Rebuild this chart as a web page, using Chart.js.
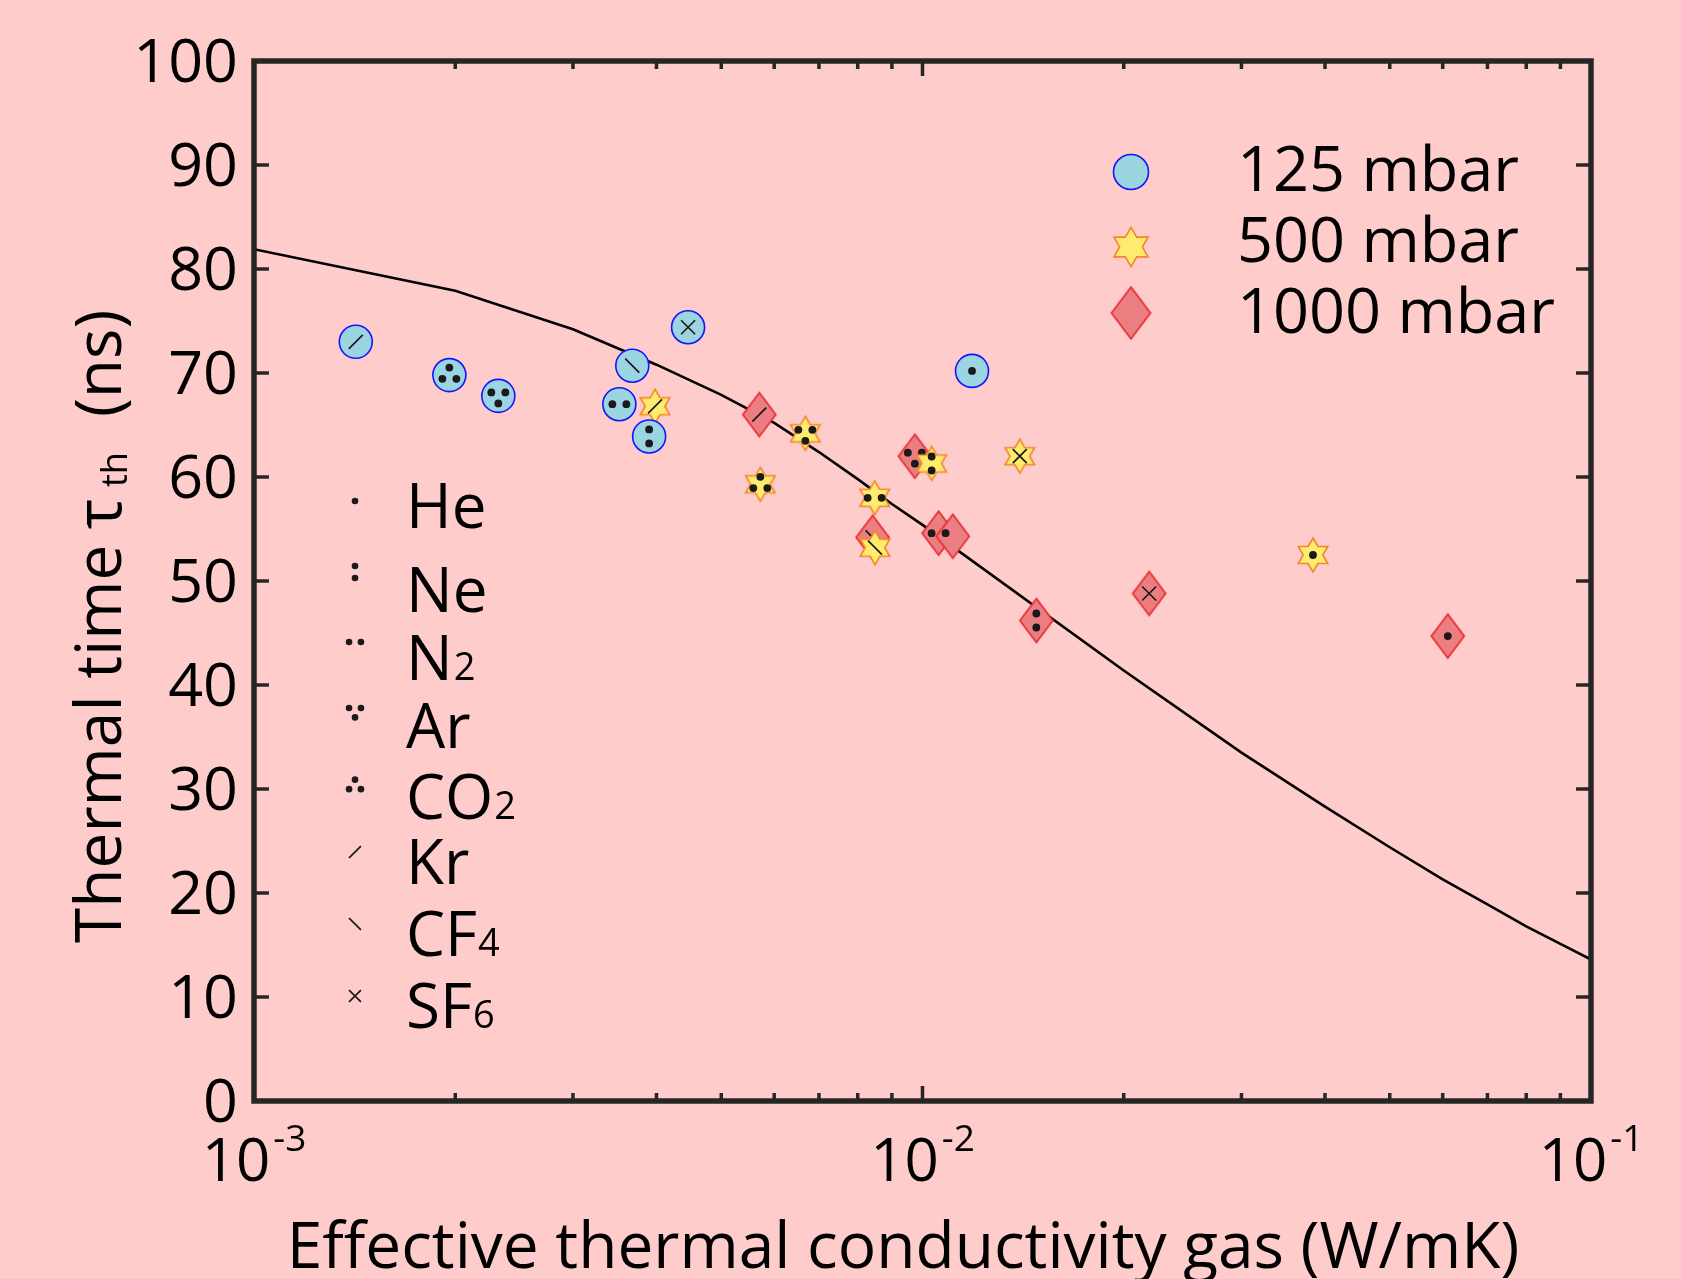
<!DOCTYPE html>
<html>
<head>
<meta charset="utf-8">
<script src="https://cdn.jsdelivr.net/npm/chart.js@4.4.1/dist/chart.umd.min.js"></script>
<style>
    html, body { margin: 0; padding: 0; background: #ffcccc; }
    #wrap { width: 1681px; height: 1279px; position: relative; }
</style>
</head>
<body>
<div id="wrap"><canvas id="myChart"></canvas></div>
<script>
const ctx = document.getElementById("myChart");

// model curve
const curveK = [0.001, 0.002, 0.003, 0.004, 0.005, 0.006, 0.007, 0.008, 0.009, 0.01, 0.02, 0.03, 0.04, 0.05, 0.06, 0.07, 0.08, 0.09, 0.1];
const curveTau = [81.9, 77.9, 74.2, 70.8, 67.9, 65.2, 62.4, 59.8, 57.4, 55.4, 41.4, 33.5, 28.3, 24.4, 21.3, 18.9, 16.8, 15.1, 13.6];

// measurements per pressure
const k125 = [0.00142, 0.00196, 0.00232, 0.00352, 0.00368, 0.00390, 0.00446, 0.01186];
const tau125 = [73.0, 69.8, 67.8, 67.0, 70.7, 63.9, 74.4, 70.2];
const gas125 = ["Kr", "CO2", "Ar", "N2", "CF4", "Ne", "SF6", "He"];

const k500 = [0.00398, 0.00572, 0.00668, 0.00848, 0.00849, 0.01032, 0.01398, 0.03838];
const tau500 = [66.8, 59.3, 64.2, 58.0, 53.2, 61.3, 62.0, 52.5];
const gas500 = ["Kr", "CO2", "Ar", "N2", "CF4", "Ne", "SF6", "He"];

const k1000 = [0.00570, 0.00842, 0.00974, 0.01057, 0.01110, 0.01480, 0.02183, 0.06106];
const tau1000 = [66.0, 54.2, 62.0, 54.6, 54.3, 46.2, 48.8, 44.7];
const gas1000 = ["Kr", "CF4", "Ar", "N2", "", "Ne", "SF6", "He"]; // 5th glyph not visible

const gasNames = ["He", "Ne", "N2", "Ar", "CO2", "Kr", "CF4", "SF6"];
const pressureLabels = ["125 mbar", "500 mbar", "1000 mbar"];
const xTickExps = [-3, -2, -1];

const FONT = "'Open Sans', 'Noto Sans', sans-serif";
const INK = "#262626";

function toPoints(xs, ys) {
    return xs.map((x, i) => ({ x: x, y: ys[i] }));
}

// 6-pointed star marker
function makeStar(R) {
    const c = document.createElement("canvas");
    const size = Math.ceil(2 * R + 4);
    c.width = size;
    c.height = size;
    const g = c.getContext("2d");
    const cx = size / 2, cy = size / 2, r = R / Math.sqrt(3);
    g.beginPath();
    for (let i = 0; i < 12; i++) {
        const a = -Math.PI / 2 + i * Math.PI / 6;
        const rad = i % 2 === 0 ? R : r;
        g.lineTo(cx + rad * Math.cos(a), cy + rad * Math.sin(a));
    }
    g.closePath();
    g.fillStyle = "#ffeb6e";
    g.fill();
    g.lineWidth = 1.6;
    g.strokeStyle = "#f3862c";
    g.stroke();
    return c;
}

function makeDiamond(hw, hh) {
    const c = document.createElement("canvas");
    c.width = Math.ceil(2 * hw + 4);
    c.height = Math.ceil(2 * hh + 4);
    const g = c.getContext("2d");
    const cx = c.width / 2, cy = c.height / 2;
    g.beginPath();
    g.moveTo(cx, cy - hh);
    g.lineTo(cx + hw, cy);
    g.lineTo(cx, cy + hh);
    g.lineTo(cx - hw, cy);
    g.closePath();
    g.fillStyle = "#ea7e81";
    g.fill();
    g.lineWidth = 1.6;
    g.strokeStyle = "#e8262c";
    g.stroke();
    return c;
}

const starImg = makeStar(17);
const diamondImg = makeDiamond(16.5, 22);
const starBig = makeStar(19.7);
const diamondBig = makeDiamond(19.5, 26);

// gas glyph drawn on top of a marker
function drawGlyph(g, gas, x, y, s) {
    const dots = {
        He: [[0, 0]],
        Ne: [[0, -7], [0, 7]],
        N2: [[-7, 0], [7, 0]],
        Ar: [[-7, -3.5], [7, -3.5], [0, 7.5]],
        CO2: [[0, -7.5], [-7, 3.75], [7, 3.75]]
    };
    g.save();
    g.fillStyle = "#1a1a1a";
    g.strokeStyle = "#1a1a1a";
    g.lineWidth = 1.7;
    if (dots[gas]) {
        dots[gas].forEach(d => {
            g.beginPath();
            g.arc(x + d[0] * s, y + d[1] * s, 3.9 * s, 0, Math.PI * 2);
            g.fill();
        });
    } else {
        const d = 7 * s;
        g.beginPath();
        if (gas === "Kr" || gas === "SF6") {
            g.moveTo(x - d, y + d);
            g.lineTo(x + d, y - d);
        }
        if (gas === "CF4" || gas === "SF6") {
            g.moveTo(x - d, y - d);
            g.lineTo(x + d, y + d);
        }
        g.stroke();
    }
    g.restore();
}

const glyphPlugin = {
    id: "glyphs",
    afterDatasetDraw(chart, args) {
        const ds = chart.data.datasets[args.index];
        if (!ds.gases) return;
        args.meta.data.forEach((pt, i) => drawGlyph(chart.ctx, ds.gases[i], pt.x, pt.y, 1));
    }
};

// text with a smaller trailing digit, e.g. CO2
function drawChem(g, name, x, y, size) {
    const m = name.match(/^([A-Za-z]+)(\d?)$/);
    g.font = `${size}px ${FONT}`;
    g.fillText(m[1], x, y);
    if (m[2]) {
        const w = g.measureText(m[1]).width;
        g.font = `${Math.round(size * 0.62)}px ${FONT}`;
        g.fillText(m[2], x + w + 1, y);
    }
}

const framePlugin = {
    id: "frame",
    afterDraw(chart) {
        const g = chart.ctx;
        const a = chart.chartArea;
        const xs = chart.scales.x, ys = chart.scales.y;
        g.save();
        g.strokeStyle = INK;

        // ticks (inside, all four sides)
        g.lineWidth = 3.5;
        g.beginPath();
        for (let v = 10; v < 100; v += 10) {
            const py = ys.getPixelForValue(v);
            g.moveTo(a.left, py); g.lineTo(a.left + 15, py);
            g.moveTo(a.right, py); g.lineTo(a.right - 15, py);
        }
        for (let e = -3; e <= -2; e++) {
            for (let m = 1; m <= 9; m++) {
                const v = m * Math.pow(10, e);
                if (v <= 0.001 || v >= 0.1) continue;
                const px = xs.getPixelForValue(v);
                const len = m === 1 ? 15 : 8;
                g.moveTo(px, a.bottom); g.lineTo(px, a.bottom - len);
                g.moveTo(px, a.top); g.lineTo(px, a.top + len);
            }
        }
        g.stroke();

        g.lineWidth = 5.5;
        g.strokeRect(a.left, a.top, a.right - a.left, a.bottom - a.top);

        // x tick labels with superscript exponents
        g.fillStyle = "#000";
        g.textBaseline = "alphabetic";
        g.textAlign = "left";
        xTickExps.forEach(e => {
            const px = xs.getPixelForValue(Math.pow(10, e));
            g.font = `60px ${FONT}`;
            const wb = g.measureText("10").width;
            g.font = `37px ${FONT}`;
            const ws = g.measureText(String(e)).width;
            const x0 = px - (wb + ws + 3) / 2;
            g.font = `60px ${FONT}`;
            g.fillText("10", x0, 1181);
            g.font = `37px ${FONT}`;
            g.fillText(String(e), x0 + wb + 3, 1151);
        });

        // x axis title
        g.font = `64px ${FONT}`;
        g.textAlign = "center";
        g.fillText("Effective thermal conductivity gas (W/mK)", 903, 1268);

        // y axis title (rotated, with subscript)
        g.save();
        g.translate(121, 943);
        g.rotate(-Math.PI / 2);
        g.textAlign = "left";
        g.font = `64px ${FONT}`;
        g.fillText("Thermal time", 0, 0);
        g.fillText("\u03c4", 414, 0);
        g.font = `36px ${FONT}`;
        g.fillText("th", 456, 6);
        g.font = `64px ${FONT}`;
        g.fillText("(ns)", 526, 0);
        g.restore();

        // pressure legend
        const legY = [172, 247, 313];
        const legBase = [191, 262, 333];
        g.textAlign = "left";
        g.beginPath();
        g.arc(1131, legY[0], 17.5, 0, Math.PI * 2);
        g.fillStyle = "#9cd5e2";
        g.fill();
        g.lineWidth = 1.6;
        g.strokeStyle = "#1414ff";
        g.stroke();
        g.drawImage(starBig, 1131 - starBig.width / 2, legY[1] - starBig.height / 2);
        g.drawImage(diamondBig, 1131 - diamondBig.width / 2, legY[2] - diamondBig.height / 2);
        g.fillStyle = "#000";
        g.font = `63px ${FONT}`;
        pressureLabels.forEach((t, i) => g.fillText(t, 1237, legBase[i]));

        // gas legend
        const glyphY = [501, 572, 642, 711, 786, 852, 924, 996];
        const textBase = [528, 612, 680, 748, 819, 884, 956, 1028];
        gasNames.forEach((name, i) => {
            drawGlyph(g, name, 355, glyphY[i], 0.85);
            g.fillStyle = "#000";
            drawChem(g, name, 406, textBase[i], 62);
        });
        g.restore();
    }
};

const chart = new Chart(ctx, {
    type: "scatter",
    data: {
        datasets: [
            {
                label: "125 mbar",
                data: toPoints(k125, tau125),
                gases: gas125,
                pointStyle: "circle",
                pointRadius: 16.5,
                pointBackgroundColor: "#9cd5e2",
                pointBorderColor: "#1414ff",
                pointBorderWidth: 1.6
            },
            {
                label: "500 mbar",
                data: toPoints(k500, tau500),
                gases: gas500,
                pointStyle: starImg
            },
            {
                label: "1000 mbar",
                data: toPoints(k1000, tau1000),
                gases: gas1000,
                pointStyle: diamondImg
            },
            {
                label: "model",
                data: toPoints(curveK, curveTau),
                showLine: true,
                pointRadius: 0,
                borderColor: "#000",
                borderWidth: 2.6
            }
        ]
    },
    options: {
        responsive: true,
        maintainAspectRatio: false,
        animation: false,
        devicePixelRatio: 1,
        layout: { padding: { left: 0, right: 90, top: 61, bottom: 0 } },
        scales: {
            x: {
                type: "logarithmic",
                min: 0.001,
                max: 0.1,
                grid: { display: false, drawTicks: false },
                border: { display: false },
                ticks: { display: false },
                afterFit: (s) => { s.height = 178; }
            },
            y: {
                min: 0,
                max: 100,
                grid: { display: false, drawTicks: false },
                border: { display: false },
                ticks: {
                    stepSize: 10,
                    padding: 16,
                    labelOffset: 4,
                    color: "#000",
                    font: { family: FONT, size: 61 }
                },
                afterFit: (s) => { s.width = 254; }
            }
        },
        plugins: {
            legend: { display: false },
            tooltip: { enabled: false }
        }
    },
    plugins: [glyphPlugin, framePlugin]
});
</script>
</body>
</html>
